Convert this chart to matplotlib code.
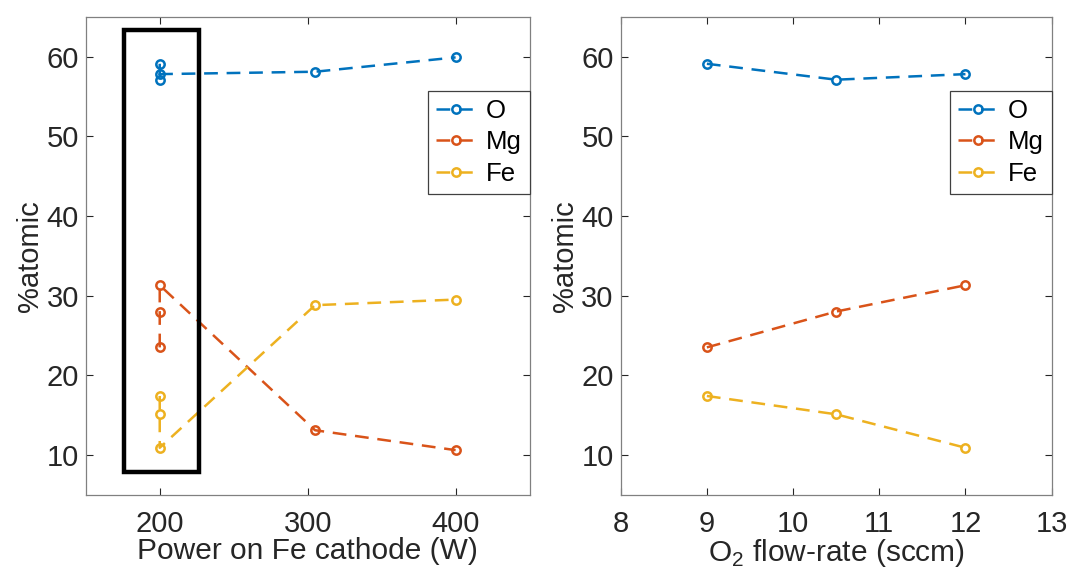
import matplotlib
matplotlib.use('Agg')
from matplotlib import pyplot as plt
from matplotlib.patches import Rectangle

plt.rcParams['font.family'] = ['Liberation Sans', 'DejaVu Sans']

# left panel: Fe cathode power (three 200 W runs at different O2 flow)
power = [200, 200, 200, 305, 400]
O_pow = [59.1, 57.0, 57.8, 58.1, 59.9]
Mg_pow = [23.5, 28.0, 31.3, 13.1, 10.6]
Fe_pow = [17.4, 15.1, 10.9, 28.8, 29.5]

# right panel: O2 flow-rate
flow = [9, 10.5, 12]
O_flow = [59.1, 57.1, 57.8]
Mg_flow = [23.5, 28.0, 31.3]
Fe_flow = [17.4, 15.1, 10.9]

labels = ['O', 'Mg', 'Fe']
CLRS = ['#0072BD', '#D95319', '#EDB120']
TXT = '#262626'

fig = plt.figure(figsize=(10.72, 5.78), dpi=100)
ax1 = fig.add_axes([0.080, 0.144, 0.414, 0.827])
ax2 = fig.add_axes([0.579, 0.144, 0.402, 0.827])


def style(ax):
    ax.set_ylim(5, 65)
    ax.set_yticks([10, 20, 30, 40, 50, 60])
    ax.tick_params(direction='in', top=True, right=True, labelsize=21,
                   colors=TXT, length=5, width=0.8, pad=5)
    ax.tick_params(axis='x', pad=11)
    for s in ax.spines.values():
        s.set_color('#808080')
        s.set_linewidth(0.9)
    ax.set_ylabel('%atomic', fontsize=21, color=TXT, labelpad=2)
    leg = ax.legend(loc='upper right', bbox_to_anchor=(1.0, 0.845),
                    fontsize=18.5, handlelength=1.55, handletextpad=0.4,
                    borderpad=0.3, labelspacing=0.3, fancybox=False,
                    framealpha=1, borderaxespad=0)
    leg.get_frame().set_edgecolor('#404040')
    leg.get_frame().set_linewidth(0.9)
    for t in leg.get_texts():
        t.set_color('black')


for ys, c, lab in zip([O_pow, Mg_pow, Fe_pow], CLRS, labels):
    ax1.plot(power, ys, '--o', color=c, lw=1.8, ms=6, mfc='none', mew=1.8,
             dashes=(5.5, 3.5), label=lab)
ax1.set_xlim(150, 450)
ax1.set_xticks([200, 300, 400])
ax1.set_xlabel('Power on Fe cathode (W)', fontsize=21.5, color=TXT, labelpad=-1)
ax1.add_patch(Rectangle((176, 7.8), 50.5, 55.5, fill=False, edgecolor='black',
                        lw=3.2, clip_on=False, zorder=5))
style(ax1)

for ys, c, lab in zip([O_flow, Mg_flow, Fe_flow], CLRS, labels):
    ax2.plot(flow, ys, '--o', color=c, lw=1.8, ms=6, mfc='none', mew=1.8,
             dashes=(5.5, 3.5), label=lab)
ax2.set_xlim(8, 13)
ax2.set_xticks([8, 9, 10, 11, 12, 13])
ax2.set_xlabel('O$_\\mathregular{2}$ flow-rate (sccm)', fontsize=21.5,
               color=TXT, labelpad=-1)
style(ax2)

fig.savefig('out.png', dpi=100, facecolor='white')
